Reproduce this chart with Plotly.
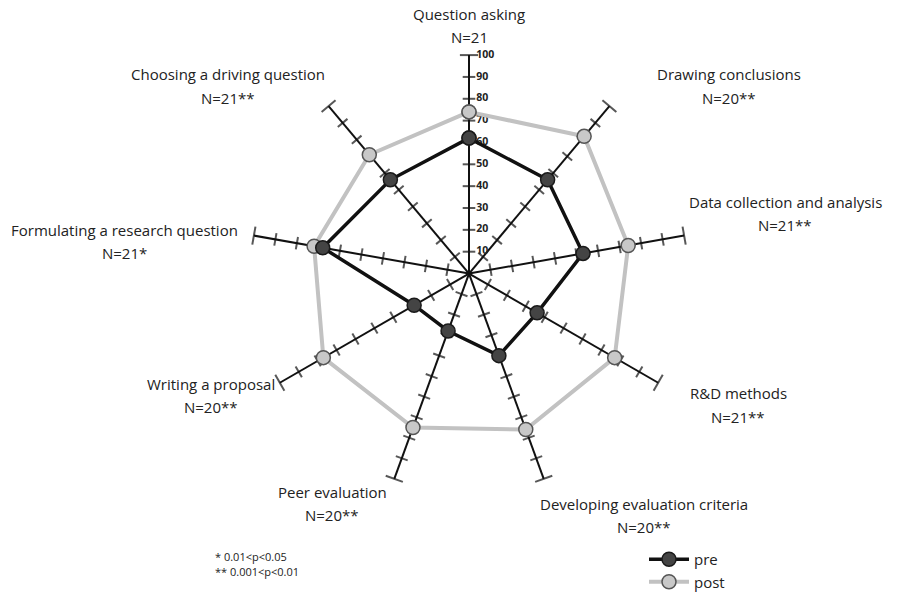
import plotly.graph_objects as go

# Inquiry skill dimensions, clockwise from the top spoke
categories = [
    "Question asking",
    "Drawing conclusions",
    "Data collection and analysis",
    "R&D methods",
    "Developing evaluation criteria",
    "Peer evaluation",
    "Writing a proposal",
    "Formulating a research question",
    "Choosing a driving question",
]
sample_sizes = ["N=21", "N=20**", "N=21**", "N=21**", "N=20**",
                "N=20**", "N=20**", "N=21*", "N=21**"]

# Mean scores (0-100)
pre_scores = [62, 56, 53, 36, 40, 28, 29, 68, 56]
post_scores = [74, 82, 74, 77, 76, 75, 77, 72, 71]

scale_ticks = [10, 20, 30, 40, 50, 60, 70, 80, 90, 100]
footnotes = ["* 0.01&lt;p&lt;0.05", "** 0.001&lt;p&lt;0.01"]

W, H = 900, 598
CX, CY, R = 469, 283, 226          # chart centre and radius in pixels
step = 360 / len(categories)

# centre of each label's first line (pixels); the N line sits below it
label_pos = [(469, 14), (729, 77), (785, 209), (738, 407), (644, 521),
             (332, 509), (211, 397), (124, 238), (228, 77)]
LINE_GAP = 24

FONT = "Open Sans"
TEXT = "#222222"

fig = go.Figure()

# cross ticks along every spoke
tick_theta, tick_r, tick_angle, tick_size = [], [], [], []
for i, cat in enumerate(categories):
    for t in scale_ticks:
        tick_theta.append(cat)
        tick_r.append(t)
        tick_angle.append(i * step)
        tick_size.append(13 if t == scale_ticks[-1] else 9)

fig.add_trace(go.Scatterpolar(
    theta=tick_theta, r=tick_r, mode="markers", showlegend=False,
    hoverinfo="skip",
    marker=dict(symbol="line-ew", size=tick_size, angle=tick_angle,
                color="#111111", line=dict(color="#111111", width=2)),
))

# scale numbers beside the top spoke
fig.add_trace(go.Scatterpolar(
    theta=[categories[0]] * len(scale_ticks), r=scale_ticks,
    mode="markers+text", text=[str(t) for t in scale_ticks],
    textposition="middle right", showlegend=False, hoverinfo="skip",
    marker=dict(size=10, opacity=0),
    textfont=dict(family=FONT, size=10.5, color=TEXT, weight=700),
))

fig.add_trace(go.Scatterpolar(
    theta=categories + categories[:1], r=post_scores + post_scores[:1],
    mode="lines+markers", name="post", legendrank=2,
    line=dict(color="#c2c2c2", width=4),
    marker=dict(size=14, color="#c8c8c8", line=dict(color="#555555", width=1.5)),
))

fig.add_trace(go.Scatterpolar(
    theta=categories + categories[:1], r=pre_scores + pre_scores[:1],
    mode="lines+markers", name="pre", legendrank=1,
    line=dict(color="#111111", width=3.5),
    marker=dict(size=14, color="#444444", line=dict(color="#1a1a1a", width=1.5)),
))

annotations = []
for (px, py), cat, n in zip(label_pos, categories, sample_sizes):
    for k, line in enumerate((cat, n)):
        annotations.append(dict(
            x=px / W, y=1 - (py + k * LINE_GAP) / H, xref="paper", yref="paper",
            text=line, showarrow=False, xanchor="center", yanchor="middle",
            font=dict(family=FONT, size=15, color=TEXT),
        ))
for k, note in enumerate(footnotes):
    annotations.append(dict(
        x=213 / W, y=1 - (576 + k * 15) / H, xref="paper", yref="paper",
        text=note, showarrow=False, xanchor="left", yanchor="middle",
        font=dict(family=FONT, size=11, color=TEXT),
    ))

fig.update_layout(
    width=W, height=H,
    margin=dict(l=0, r=0, t=0, b=0),
    paper_bgcolor="white", plot_bgcolor="white",
    font=dict(family=FONT, color=TEXT),
    polar=dict(
        domain=dict(x=[(CX - R) / W, (CX + R) / W],
                    y=[(H - CY - R) / H, (H - CY + R) / H]),
        bgcolor="white",
        angularaxis=dict(
            direction="clockwise", rotation=90,
            showgrid=True, gridcolor="#111111", gridwidth=2,
            showline=False, ticks="", showticklabels=False,
        ),
        radialaxis=dict(
            range=[0, 100], showgrid=False, showline=False, ticks="",
            showticklabels=False,
        ),
    ),
    showlegend=True,
    legend=dict(x=644 / W, y=1 - 562 / H, xanchor="left", yanchor="top",
                bgcolor="rgba(0,0,0,0)", font=dict(family=FONT, size=15, color=TEXT),
                itemwidth=40, tracegroupgap=0),
    annotations=annotations,
)

fig.write_html("out.html")
